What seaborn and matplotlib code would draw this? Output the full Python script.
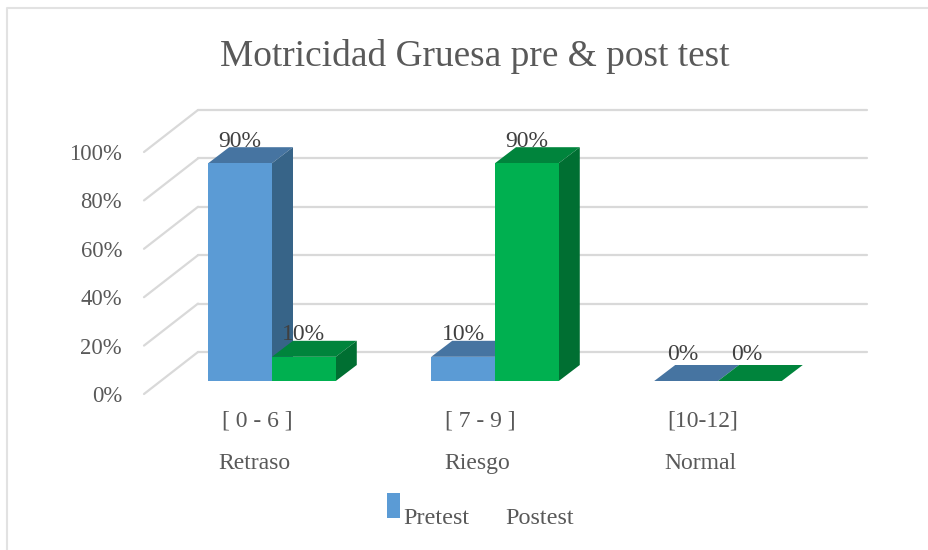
"""Motricidad Gruesa bars with a fake 3D look, like the Excel original."""

import matplotlib
matplotlib.use("Agg")
import matplotlib.pyplot as plt
from matplotlib.patches import Polygon, Rectangle
import pandas as pd
import seaborn as sns

# Chart data
rangos = ["[ 0 - 6 ]", "[ 7 - 9 ]", "[10-12]"]
niveles = ["Retraso", "Riesgo", "Normal"]
pretest = [90, 10, 0]
postest = [10, 90, 0]
series = ["Pretest", "Postest"]
ticks = [0, 20, 40, 60, 80, 100]
titulo = "Motricidad Gruesa pre & post test"

TEXT = "#595959"
LABEL = "#404040"
GRID = "#D9D9D9"
FRONT = ["#5B9BD5", "#00B050"]
TOP = ["#4674A1", "#00843C"]
SIDE = ["#376488", "#006F32"]

W, H = 929, 550

sns.set_theme(style="white")
plt.rcParams["font.family"] = ["Liberation Serif", "DejaVu Serif"]

df = pd.DataFrame({
    "rango": rangos * 2,
    "valor": pretest + postest,
    "serie": [series[0]] * 3 + [series[1]] * 3,
})

fig = plt.figure(figsize=(W / 100, H / 100), dpi=100)
ax = fig.add_axes([145 / W, 1 - 381 / H, (867 - 145) / W, 270 / H])

# scale: one category = 223 px, 100% = 242 px
PX_X = 223
PX_Y = 2.42

sns.barplot(data=df, x="rango", y="valor", hue="serie", palette=FRONT, width=0.572,
            gap=0, saturation=1, legend=False, linewidth=0, ax=ax)
ax.set_xlim((145 - 272) / PX_X, (867 - 272) / PX_X)
ax.set_ylim(0, 270 / PX_Y)
ax.axis("off")

# Back wall and side wall gridlines
back_x0 = (198 - 272) / PX_X
back_x1 = (867 - 272) / PX_X
wall_x = (144 - 272) / PX_X
for t in ticks:
    back = t + 29 / PX_Y
    ax.plot([back_x0, back_x1], [back, back], color=GRID, lw=1.6, zorder=1, clip_on=False)
    ax.plot([wall_x, back_x0], [t - 13 / PX_Y, back], color=GRID, lw=1.6, zorder=1, clip_on=False)
    ax.text(wall_x - 22 / PX_X, t - 15.5 / PX_Y, f"{t}%", ha="right", va="center",
            fontsize=16.3, color=TEXT, clip_on=False)

# Depth faces and value labels for each bar
dx = 21 / PX_X
dy = 16 / PX_Y
for i, container in enumerate(ax.containers):
    z = 3 + i
    for bar in container:
        x0 = bar.get_x()
        x1 = x0 + bar.get_width()
        h = bar.get_height()
        bar.set_zorder(z + 0.5)
        ax.add_patch(Polygon([(x0, h), (x1, h), (x1 + dx, h + dy), (x0 + dx, h + dy)],
                             facecolor=TOP[i], edgecolor="none", zorder=z, clip_on=False))
        ax.add_patch(Polygon([(x1, 0), (x1, h), (x1 + dx, h + dy), (x1 + dx, dy)],
                             facecolor=SIDE[i], edgecolor="none", zorder=z, clip_on=False))
        lift = 22 if h > 0 else 26
        shift = 0 if h > 0 else -3
        ax.annotate(f"{h:.0f}%", ((x0 + x1) / 2, h), xytext=(shift * 0.72, lift * 0.72),
                    textcoords="offset points", ha="center", va="center",
                    fontsize=17, color=LABEL, zorder=10, annotation_clip=False)

# Category labels, two levels
for i, (rango, nivel) in enumerate(zip(rangos, niveles)):
    fig.text((257 + i * PX_X) / W, 1 - 421 / H, rango, ha="center", va="center",
             fontsize=17, color=TEXT)
    fig.text((254 + i * PX_X) / W, 1 - 463.5 / H, nivel, ha="center", va="center",
             fontsize=17, color=TEXT)

fig.text(474.5 / W, 1 - 56 / H, titulo, ha="center", va="center", fontsize=26.9, color=TEXT)

# Legend as it appears in the original: only the blue swatch shows
fig.add_artist(Rectangle((387 / W, 1 - 518 / H), 13 / W, 25 / H, facecolor=FRONT[0],
                         edgecolor="none", transform=fig.transFigure))
fig.text(403 / W, 1 - 519 / H, series[0], ha="left", va="center", fontsize=17.4, color=TEXT)
fig.text(505 / W, 1 - 519 / H, series[1], ha="left", va="center", fontsize=17.4, color=TEXT)

# Chart frame: only left and top edges show
fig.add_artist(plt.Line2D([7 / W, 7 / W, 1], [0, 1 - 8 / H, 1 - 8 / H],
                          color="#E2E2E2", lw=1.5, transform=fig.transFigure))

fig.savefig("out.png", dpi=100)
